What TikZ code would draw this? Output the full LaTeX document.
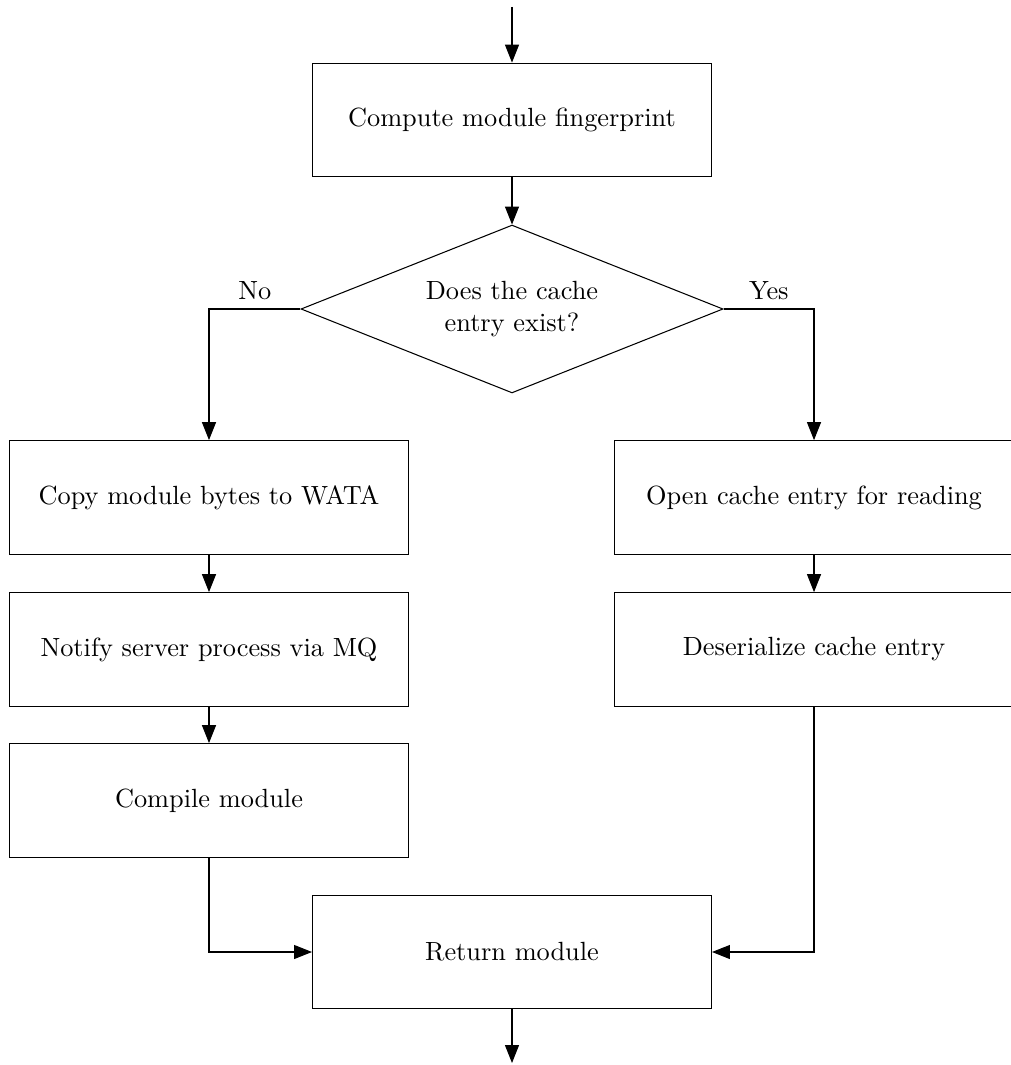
\documentclass[tikz,border=0pt]{standalone}
\usetikzlibrary{shapes.geometric,arrows.meta}
\begin{document}
\begin{tikzpicture}[x=0.38pt,y=-0.38pt,
  box/.style={draw,rectangle,minimum width=151.6pt,minimum height=43.2pt,inner sep=0pt,align=center},
  decision/.style={draw,diamond,shape aspect=2.5,minimum width=160.4pt,minimum height=63.8pt,inner sep=0pt,align=center},
  flow/.style={-{Triangle[length=6.8pt,width=5.3pt]}},
  line width=0.4pt]
\useasboundingbox (0,0) rectangle (1010,1065);
\coordinate (start) at (512,7);
\node[box] (compute) at (512,120) {Compute module fingerprint};
\node[decision] (dec) at (512,309) {Does the cache\\entry exist?};
\node[box] (copy) at (209,497.5) {Copy module bytes to WATA};
\node[box] (notify) at (209,649.5) {Notify server process via MQ};
\node[box] (compile) at (209,800.5) {Compile module};
\node[box] (open) at (814,497.5) {Open cache entry for reading};
\node[box] (deser) at (814,649.5) {Deserialize cache entry};
\node[box] (ret) at (512,952) {Return module};
\coordinate (end) at (512,1063);
\draw[flow] (start) -- (compute);
\draw[flow] (compute) -- (dec);
\draw[flow] (dec.west) -| node[above,pos=0.25] {No} (copy.north);
\draw[flow] (dec.east) -| node[above,pos=0.25] {Yes} (open.north);
\draw[flow] (copy) -- (notify);
\draw[flow] (notify) -- (compile);
\draw[flow] (open) -- (deser);
\draw[flow] (compile.south) |- (ret.west);
\draw[flow] (deser.south) |- (ret.east);
\draw[flow] (ret) -- (end);
\end{tikzpicture}
\end{document}
